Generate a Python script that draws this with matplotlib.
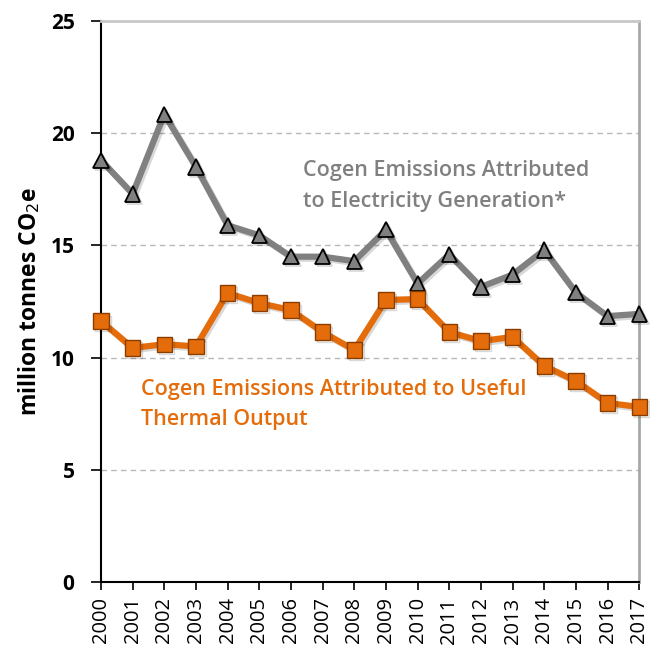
import numpy as np
import matplotlib.pyplot as plt
import matplotlib.patheffects as pe

plt.rcParams['font.family'] = ['Open Sans', 'DejaVu Sans']

years = [str(y) for y in range(2000, 2018)]
electricity = [18.8, 17.3, 20.85, 18.5, 15.9, 15.45, 14.5, 14.5, 14.3, 15.7,
               13.3, 14.6, 13.15, 13.7, 14.8, 12.9, 11.85, 11.95]
thermal = [11.63, 10.43, 10.6, 10.5, 12.88, 12.43, 12.12, 11.14, 10.34, 12.57,
           12.61, 11.14, 10.74, 10.92, 9.63, 8.96, 7.98, 7.8]

gray = '#808080'
orange = '#E46C0A'

fig = plt.figure(figsize=(6.5, 6.56), dpi=100)
ax = fig.add_axes([0.1554, 0.1128, 0.828, 0.855])

x = np.arange(len(years))
shadow = [pe.SimpleLineShadow(offset=(1.5, -1.5), alpha=0.15), pe.Normal()]

ax.plot(x, electricity, color=gray, lw=4.5, marker='^', ms=11,
        markerfacecolor=gray, markeredgecolor='black', markeredgewidth=1.3,
        path_effects=shadow, zorder=3, clip_on=False)
ax.plot(x, thermal, color=orange, lw=4.5, marker='s', ms=11,
        markerfacecolor=orange, markeredgecolor='#8a3d00', markeredgewidth=1.0,
        path_effects=shadow, zorder=3, clip_on=False)

ax.set_xlim(0, len(years) - 1)
ax.set_ylim(0, 25)
ax.set_yticks([0, 5, 10, 15, 20, 25])
ax.set_xticks(x)
ax.set_xticklabels(years, rotation=90, fontsize=14.5)
ax.tick_params(axis='y', labelsize=15, direction='out', length=7, width=1.2, pad=12)
ax.tick_params(axis='x', direction='out', length=6, width=1.2, pad=5)
for lab in ax.get_yticklabels():
    lab.set_fontweight('bold')

ax.grid(axis='y', color='#b8b8b8', ls=(0, (4, 3)), lw=1)
ax.set_axisbelow(True)

ax.spines['left'].set_color('black')
ax.spines['left'].set_linewidth(1.5)
ax.spines['bottom'].set_color('black')
ax.spines['bottom'].set_linewidth(1.5)
ax.spines['top'].set_color('#c8c8c8')
ax.spines['top'].set_linewidth(2)
ax.spines['right'].set_color('#a8a8a8')
ax.spines['right'].set_linewidth(2)

ax.set_ylabel('million tonnes CO$_2$e', fontsize=16.5, fontweight='bold', labelpad=6)

ax.text(0.375, 0.752, 'Cogen Emissions Attributed\nto Electricity Generation*',
        transform=ax.transAxes, color=gray, fontsize=15.5, fontweight='semibold',
        va='top', ha='left', linespacing=1.6)
ax.text(0.075, 0.3625, 'Cogen Emissions Attributed to Useful\nThermal Output',
        transform=ax.transAxes, color=orange, fontsize=15.5, fontweight='semibold',
        va='top', ha='left', linespacing=1.6)

fig.savefig('out.png', dpi=100)
